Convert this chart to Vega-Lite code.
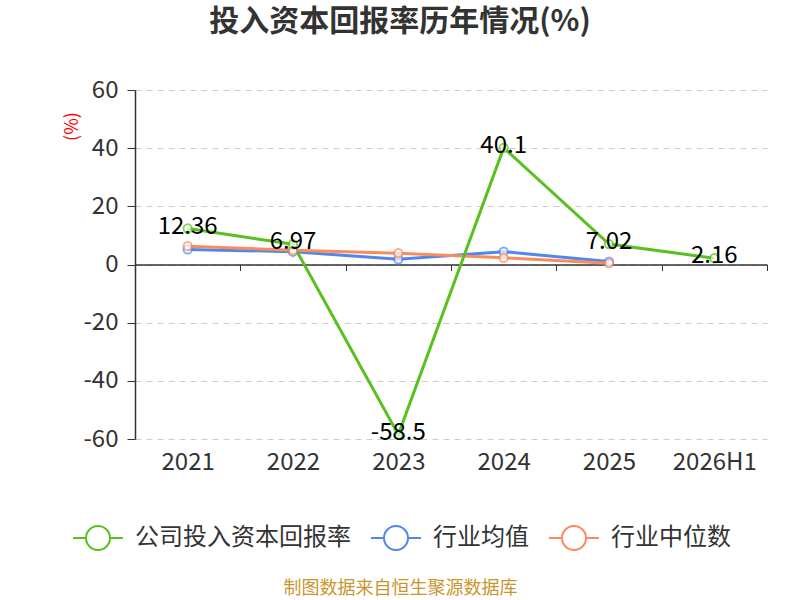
{
  "$schema": "https://vega.github.io/schema/vega-lite/v6.json",
  "width": 632,
  "height": 349,
  "autosize": {"type": "none"},
  "padding": {"left": 135, "top": 90, "right": 33, "bottom": 161},
  "background": "white",
  "title": {
    "text": "投入资本回报率历年情况(%)",
    "anchor": "middle",
    "dx": -51,
    "offset": 41,
    "fontSize": 30,
    "fontWeight": "bold",
    "color": "#333333",
    "font": "Noto Sans CJK SC"
  },
  "data": {
    "values": [
      {"year": "2021", "series": "行业均值", "value": 5.2},
      {"year": "2022", "series": "行业均值", "value": 4.4},
      {"year": "2023", "series": "行业均值", "value": 1.8},
      {"year": "2024", "series": "行业均值", "value": 4.4},
      {"year": "2025", "series": "行业均值", "value": 1.0},
      {"year": "2021", "series": "行业中位数", "value": 6.3},
      {"year": "2022", "series": "行业中位数", "value": 4.9},
      {"year": "2023", "series": "行业中位数", "value": 3.9},
      {"year": "2024", "series": "行业中位数", "value": 2.3},
      {"year": "2025", "series": "行业中位数", "value": 0.4},
      {"year": "2021", "series": "公司投入资本回报率", "value": 12.36},
      {"year": "2022", "series": "公司投入资本回报率", "value": 6.97},
      {"year": "2023", "series": "公司投入资本回报率", "value": -58.5},
      {"year": "2024", "series": "公司投入资本回报率", "value": 40.1},
      {"year": "2025", "series": "公司投入资本回报率", "value": 7.02},
      {"year": "2026H1", "series": "公司投入资本回报率", "value": 2.16}
    ]
  },
  "encoding": {
    "x": {
      "field": "year",
      "type": "nominal",
      "sort": null,
      "scale": {"type": "band", "paddingInner": 0, "paddingOuter": 0},
      "axis": {
        "title": "制图数据来自恒生聚源数据库",
        "titleColor": "#c9962e",
        "titleFontSize": 18,
        "titleFontWeight": "normal",
        "titleFont": "Noto Sans CJK SC",
        "titleX": 265,
        "titleY": 324,
        "titleBaseline": "middle",
        "titleAnchor": null,
        "offset": -174.5,
        "tickBand": "extent",
        "tickSize": 6,
        "tickColor": "#333333",
        "domainColor": "#333333",
        "domainWidth": 1.5,
        "labelAngle": 0,
        "labelFontSize": 24,
        "labelColor": "#333333",
        "labelFont": "Noto Sans CJK SC",
        "labelPadding": 180,
        "grid": false
      }
    },
    "y": {
      "field": "value",
      "type": "quantitative",
      "scale": {"domain": [-60, 60], "nice": false, "zero": false},
      "axis": {
        "title": "(%)",
        "titleColor": "red",
        "titleFontSize": 18,
        "titleFontWeight": "normal",
        "titleFont": "Noto Sans CJK SC",
        "titleX": -63,
        "titleY": 36,
        "titleAlign": "center",
        "titleBaseline": "middle",
        "titleAngle": 270,
        "values": [-60, -40, -20, 0, 20, 40, 60],
        "labelExpr": "replace(datum.label, '−', '-')",
        "labelFontSize": 24,
        "labelColor": "#333333",
        "labelFont": "Noto Sans CJK SC",
        "labelPadding": 9,
        "tickSize": 8,
        "tickColor": "#333333",
        "domainColor": "#333333",
        "domainWidth": 1.5,
        "grid": true,
        "gridColor": "#cccccc",
        "gridDash": [6, 5],
        "gridWidth": 1.2
      }
    }
  },
  "layer": [
    {
      "mark": {"type": "line", "strokeWidth": 3},
      "encoding": {
        "color": {
          "field": "series",
          "type": "nominal",
          "scale": {
            "domain": ["公司投入资本回报率", "行业均值", "行业中位数"],
            "range": ["#58c11e", "#5087ec", "#f98c5c"]
          },
          "legend": {
            "title": null,
            "orient": "none",
            "direction": "horizontal",
            "legendX": -63,
            "legendY": 422,
            "labelFontSize": 24,
            "labelColor": "#333333",
            "labelFont": "Noto Sans CJK SC",
            "labelLimit": 0,
            "labelOffset": 11,
            "columnPadding": 16,
            "symbolType": "M-1,0L-0.48,0M0.48,0L1,0M0.48,0A0.48,0.48,0,1,1,-0.48,0A0.48,0.48,0,1,1,0.48,0",
            "symbolSize": 2500,
            "symbolStrokeWidth": 2,
            "symbolFillColor": "white"
          }
        }
      }
    },
    {
      "mark": {"type": "point", "shape": "circle", "filled": true, "fill": "white", "strokeWidth": 2, "size": 70},
      "encoding": {
        "stroke": {
          "field": "series",
          "type": "nominal",
          "scale": {
            "domain": ["公司投入资本回报率", "行业均值", "行业中位数"],
            "range": ["#58c11e", "#5087ec", "#f98c5c"]
          },
          "legend": null
        }
      }
    },
    {
      "transform": [{"filter": "datum.series === '公司投入资本回报率'"}],
      "mark": {"type": "text", "fontSize": 24, "color": "black", "dy": -2, "font": "Noto Sans CJK SC"},
      "encoding": {"text": {"field": "value", "type": "nominal"}}
    }
  ],
  "config": {"view": {"stroke": null}}
}
